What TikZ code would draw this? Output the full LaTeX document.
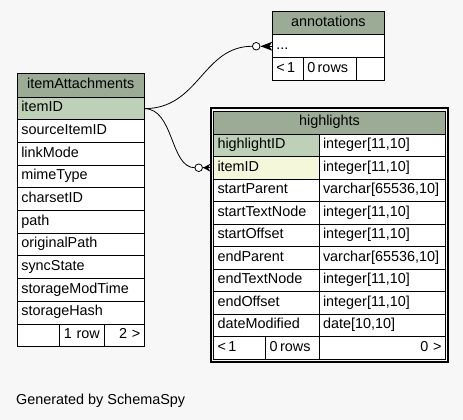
\documentclass[tikz,border=0pt]{standalone}
\usepackage{fontspec}
\setmainfont{Liberation Sans}
\usetikzlibrary{calc}
\definecolor{bgc}{HTML}{F7F7F7}
\definecolor{headc}{HTML}{9BAB96}
\definecolor{keyc}{HTML}{BED1B8}
\definecolor{idxc}{HTML}{F4F7DA}
\begin{document}
\begin{tikzpicture}[x=1pt,y=-1pt,
  cell/.style={draw=black, line width=1pt, fill=white, rectangle, inner xsep=4pt, inner ysep=0pt,
    outer sep=0pt, anchor=north west, text height=10pt, text depth=3.5pt,
    font=\fontsize{14.4}{16}\selectfont, align=left},
  headcell/.style={cell, fill=headc, align=center},
  conn/.style={draw=black, line width=0.8pt},
  crowfoot/.style={fill=black},
  ring/.style={draw=black, line width=0.8pt, fill=white}
]
\fill[bgc] (0,0) rectangle (463,420);
\useasboundingbox (0,0) rectangle (463,420);

% ---------------- annotations ----------------
\node[headcell, text width=104pt, minimum height=23pt] (an-head) at (272.3,12) {annotations};
\node[cell, text width=104pt, minimum height=22.5pt] (an-row) at (272.3,35) {...};
\node[cell, text width=23pt, minimum height=22.5pt] (an-f1) at (272.3,57.5) {<\,1};
\node[cell, text width=45.4pt, minimum height=22.5pt] (an-f2) at (303.3,57.5) {0\,rows};
\node[cell, text width=19.6pt, minimum height=22.5pt] (an-f3) at (356.7,57.5) {};

% ---------------- itemAttachments ----------------
\node[headcell, text width=119pt, minimum height=24pt] (ia-head) at (17.3,73.3) {itemAttachments};
\node[cell, fill=keyc, text width=119pt, minimum height=22.67pt] (ia-itemID) at (17.3,97.3) {itemID};
\node[cell, text width=119pt, minimum height=22.67pt] (ia-sourceItemID) at (17.3,119.97) {sourceItemID};
\node[cell, text width=119pt, minimum height=22.67pt] (ia-linkMode) at (17.3,142.64) {linkMode};
\node[cell, text width=119pt, minimum height=22.67pt] (ia-mimeType) at (17.3,165.31) {mimeType};
\node[cell, text width=119pt, minimum height=22.67pt] (ia-charsetID) at (17.3,187.98) {charsetID};
\node[cell, text width=119pt, minimum height=22.67pt] (ia-path) at (17.3,210.65) {path};
\node[cell, text width=119pt, minimum height=22.67pt] (ia-originalPath) at (17.3,233.32) {originalPath};
\node[cell, text width=119pt, minimum height=22.67pt] (ia-syncState) at (17.3,255.99) {syncState};
\node[cell, text width=119pt, minimum height=22.67pt] (ia-storageModTime) at (17.3,278.66) {storageModTime};
\node[cell, text width=119pt, minimum height=22.67pt] (ia-storageHash) at (17.3,301.33) {storageHash};
\node[cell, text width=34pt, minimum height=22.67pt] (ia-f1) at (17.3,324) {};
\node[cell, text width=37pt, minimum height=22.67pt, align=center] (ia-f2) at (59.3,324) {1 row};
\node[cell, text width=32pt, minimum height=22.67pt, align=right] (ia-f3) at (104.3,324) {2 >};

% ---------------- highlights ----------------
\node[headcell, text width=224pt, minimum height=23pt] (hl-head) at (213.5,111) {highlights};
\node[cell, fill=keyc, text width=97.5pt, minimum height=22.5pt] (hl-highlightID) at (213.5,134) {highlightID};
\node[cell, text width=118.5pt, minimum height=22.5pt] (hl-highlightID-t) at (319,134) {integer[11,10]};
\node[cell, fill=idxc, text width=97.5pt, minimum height=22.5pt] (hl-itemID) at (213.5,156.5) {itemID};
\node[cell, text width=118.5pt, minimum height=22.5pt] (hl-itemID-t) at (319,156.5) {integer[11,10]};
\node[cell, text width=97.5pt, minimum height=22.5pt] (hl-startParent) at (213.5,179) {startParent};
\node[cell, text width=118.5pt, minimum height=22.5pt] (hl-startParent-t) at (319,179) {varchar[65536,10]};
\node[cell, text width=97.5pt, minimum height=22.5pt] (hl-startTextNode) at (213.5,201.5) {startTextNode};
\node[cell, text width=118.5pt, minimum height=22.5pt] (hl-startTextNode-t) at (319,201.5) {integer[11,10]};
\node[cell, text width=97.5pt, minimum height=22.5pt] (hl-startOffset) at (213.5,224) {startOffset};
\node[cell, text width=118.5pt, minimum height=22.5pt] (hl-startOffset-t) at (319,224) {integer[11,10]};
\node[cell, text width=97.5pt, minimum height=22.5pt] (hl-endParent) at (213.5,246.5) {endParent};
\node[cell, text width=118.5pt, minimum height=22.5pt] (hl-endParent-t) at (319,246.5) {varchar[65536,10]};
\node[cell, text width=97.5pt, minimum height=22.5pt] (hl-endTextNode) at (213.5,269) {endTextNode};
\node[cell, text width=118.5pt, minimum height=22.5pt] (hl-endTextNode-t) at (319,269) {integer[11,10]};
\node[cell, text width=97.5pt, minimum height=22.5pt] (hl-endOffset) at (213.5,291.5) {endOffset};
\node[cell, text width=118.5pt, minimum height=22.5pt] (hl-endOffset-t) at (319,291.5) {integer[11,10]};
\node[cell, text width=97.5pt, minimum height=22.5pt] (hl-dateModified) at (213.5,314) {dateModified};
\node[cell, text width=118.5pt, minimum height=22.5pt] (hl-dateModified-t) at (319,314) {date[10,10]};
\node[cell, text width=44.2pt, minimum height=22.5pt] (hl-f1) at (213.5,336.5) {<\,1};
\node[cell, text width=45.3pt, minimum height=22.5pt] (hl-f2) at (265.7,336.5) {0\,rows};
\node[cell, text width=118.5pt, minimum height=22.5pt, align=right] (hl-f3) at (319,336.5) {0 >};
\draw[line width=2pt] ($(hl-head.north west)+(-2.6,-2.6)$) rectangle ($(hl-f3.south east)+(2.6,2.6)$);

% ---------------- footer text ----------------
\node[anchor=base west, inner sep=0pt, font=\fontsize{14.4}{16}\selectfont] (gen) at (16,404.7) {Generated by SchemaSpy};

% ---------------- connectors ----------------
% itemAttachments.itemID -> annotations
\coordinate (a-end) at (an-row.west);
\coordinate (a-tip) at ($(a-end)+(-11.8,0)$);
\coordinate (a-circ) at ($(a-tip)+(-4.3,0)$);
\coordinate (a-cw) at ($(a-circ)+(-3.8,0)$);
\draw[conn] (ia-itemID.east) .. controls +(55,0) and +(-50,0) .. (a-cw);
\fill[crowfoot] (a-tip) -- ($(a-end)+(0,-4.5)$) -- ($(a-end)+(-3,0)$) -- ($(a-end)+(0,4.5)$) -- cycle;
\draw[conn] (a-tip) -- (a-end);
\draw[ring] (a-circ) circle[radius=3.8];

% itemAttachments.itemID -> highlights.itemID
\coordinate (h-end) at ($(hl-itemID.west)+(-3,0)$);
\coordinate (h-tip) at ($(h-end)+(-7.5,0)$);
\coordinate (h-circ) at ($(h-tip)+(-4.3,0)$);
\coordinate (h-cw) at ($(h-circ)+(-3.8,0)$);
\draw[conn] (ia-itemID.east) .. controls +(30,0) and +(-25,0) .. (h-cw);
\fill[crowfoot] (h-tip) -- ($(h-end)+(0,-4)$) -- ($(h-end)+(-2.5,0)$) -- ($(h-end)+(0,4)$) -- cycle;
\draw[conn] (h-tip) -- (h-end);
\draw[ring] (h-circ) circle[radius=3.8];
\end{tikzpicture}
\end{document}
